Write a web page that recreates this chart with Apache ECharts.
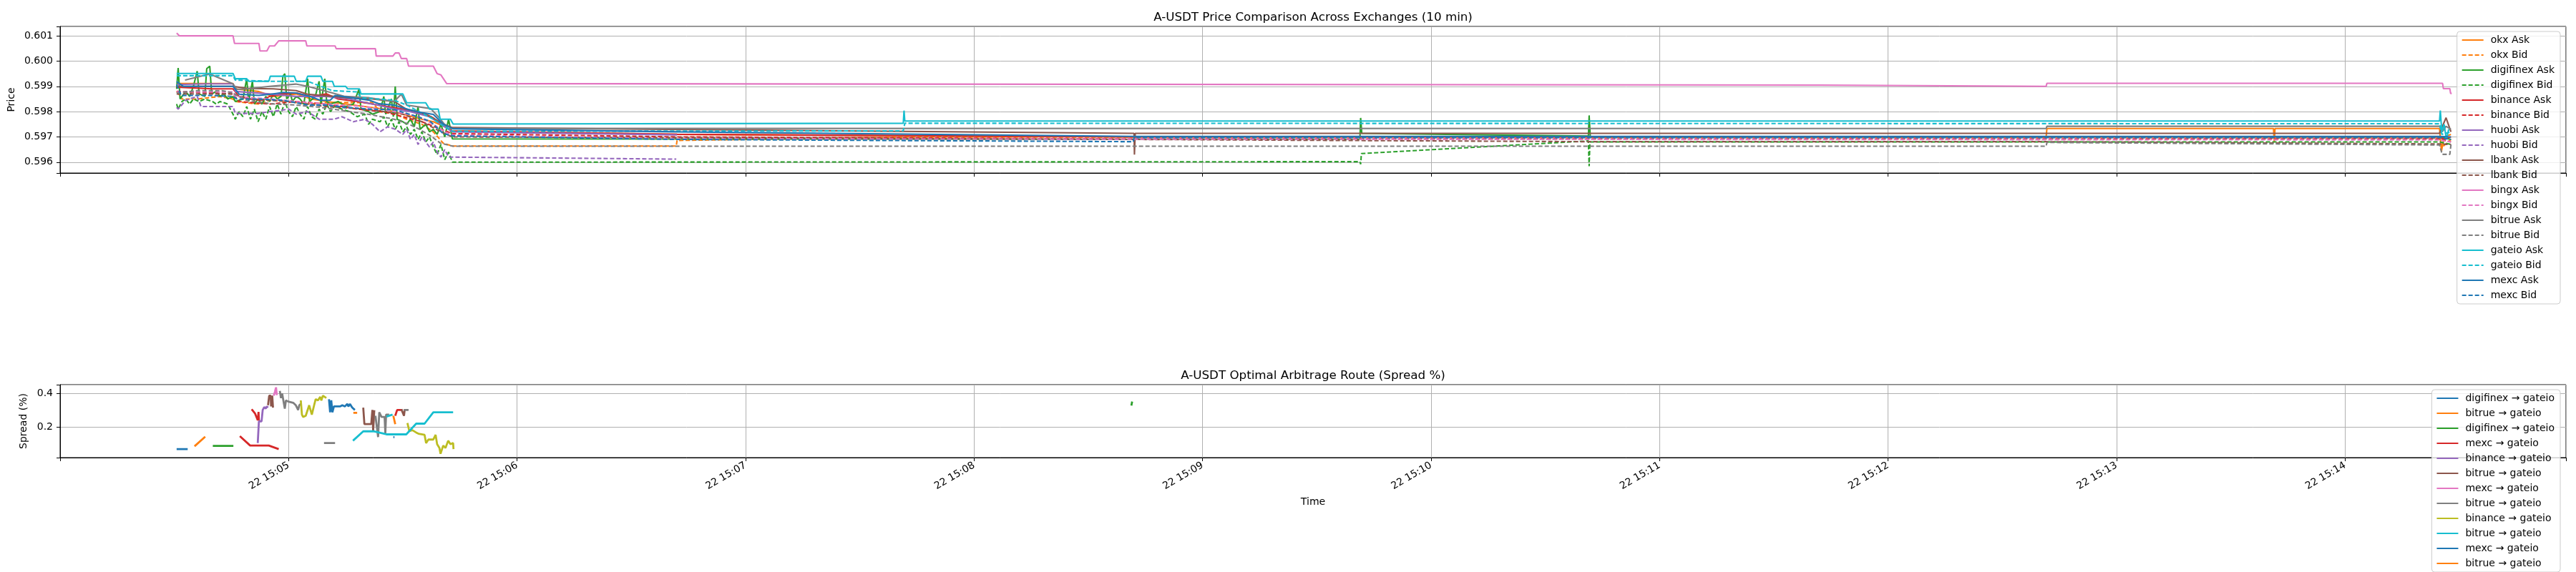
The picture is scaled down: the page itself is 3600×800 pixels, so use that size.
<!DOCTYPE html>
<html>
<head>
<meta charset="utf-8">
<script src="https://cdn.jsdelivr.net/npm/echarts@6/dist/echarts.min.js"></script>
<style>
html, body { margin: 0; padding: 0; background: #fff; }
#chart { width: 3600px; height: 800px; }
</style>
</head>
<body>
<div id="chart"></div>
<script>
// time is seconds after 22 15:04:00, price in USDT
var okxAsk = [[30.6,0.59911],[45.4,0.59911],[46,0.5989],[52,0.5988],[56,0.5986],[62,0.5987],[66,0.5985],[70,0.5984],[75,0.5983],[80,0.5982],[85,0.5981],[90,0.5979],[95,0.5977],[98,0.5976],[101,0.5974],[103,0.59724],[162,0.5971],[282,0.597],[521.5,0.597],[521.7,0.59733],[581.2,0.59733],[581.4,0.59681],[581.6,0.59733],[624.8,0.59733],[625.3,0.59643],[626,0.597],[627.8,0.5971]];
var okxBid = [[30.6,0.5988],[32,0.5985],[36,0.5985],[42,0.5986],[45.4,0.5985],[46,0.5984],[52,0.5983],[55,0.59845],[60,0.5984],[65,0.5983],[71,0.59836],[82,0.59836],[84,0.598],[88,0.5979],[91,0.5977],[95,0.5975],[98,0.5972],[100.6,0.59675],[103,0.59664],[161.8,0.59664],[162,0.59686],[222,0.59699],[521.7,0.59699],[624.8,0.59695],[625.5,0.5966],[627.8,0.5969]];
var digifinexAsk = [[30.6,0.5989],[31,0.59973],[31.5,0.5985],[33,0.5988],[34,0.5986],[35,0.599],[36,0.5996],[36.5,0.5987],[38,0.5986],[38.5,0.5997],[39.3,0.5998],[39.8,0.5987],[41,0.5988],[42,0.5986],[43,0.5987],[44,0.5985],[45.4,0.5986],[46,0.5984],[48,0.5985],[49,0.5993],[49.5,0.5984],[50.5,0.5992],[51,0.5983],[52,0.5985],[53,0.5983],[54,0.5986],[55,0.5984],[56,0.5987],[57,0.5985],[58,0.5986],[58.5,0.5994],[59,0.5995],[59.5,0.5985],[60.5,0.5987],[61,0.5984],[62,0.5986],[63,0.5985],[64,0.5983],[65,0.5993],[65.5,0.5984],[67,0.5986],[68,0.5992],[68.5,0.5983],[69.5,0.5993],[70,0.5984],[71,0.5983],[73,0.5984],[75,0.5982],[77,0.5983],[78.5,0.5989],[79,0.5981],[81,0.598],[82,0.5979],[84,0.598],[85,0.5986],[85.5,0.5979],[87,0.5985],[87.5,0.5978],[88,0.599],[88.5,0.5977],[90,0.5976],[91,0.5975],[92,0.5977],[93,0.5974],[94,0.5982],[94.5,0.5973],[96,0.5975],[97,0.5972],[98,0.5973],[99,0.5971],[100,0.5975],[101,0.597],[102,0.5977],[103,0.59692],[341.3,0.5969],[341.5,0.59775],[341.8,0.59714],[401.3,0.59703],[401.5,0.59785],[401.8,0.597],[624.8,0.597],[627.8,0.5969]];
var digifinexBid = [[30.6,0.5983],[31,0.5981],[32,0.5984],[33,0.5985],[34,0.5983],[35,0.5985],[36.5,0.5984],[38,0.5985],[40,0.5984],[41,0.5983],[42,0.5984],[44,0.5983],[45.4,0.5979],[46,0.5977],[47,0.598],[48,0.5978],[49,0.5982],[50,0.5977],[51,0.5981],[52,0.5976],[53,0.598],[54,0.5977],[55,0.5982],[56,0.5978],[57,0.5983],[58,0.5979],[59,0.5984],[60,0.598],[61,0.5978],[62,0.5982],[63,0.5979],[64,0.5977],[65,0.5982],[66,0.5978],[67,0.5977],[68,0.5981],[69,0.5979],[70,0.5983],[71,0.598],[72,0.5982],[74,0.5981],[76,0.598],[78,0.5978],[80,0.5979],[81,0.5975],[82,0.5977],[84,0.5976],[85,0.5978],[86,0.5974],[87,0.5977],[88,0.5973],[89,0.5976],[90,0.5972],[91,0.5974],[92,0.5971],[93,0.5973],[94,0.5969],[95,0.5972],[96,0.5968],[97,0.597],[98,0.5966],[99,0.5963],[100,0.5967],[101,0.5961],[102,0.5964],[103,0.596],[341.3,0.59602],[341.5,0.59592],[341.7,0.59634],[401.3,0.59684],[401.5,0.59584],[401.7,0.5968],[624.8,0.5968],[627.8,0.5967]];
var binanceAsk = [[30.6,0.59897],[40,0.5989],[45.4,0.5989],[47,0.5986],[50,0.5985],[53,0.59845],[55,0.5986],[58,0.5987],[62,0.59874],[66,0.5986],[70,0.5987],[73,0.5985],[78,0.5984],[82,0.5983],[86,0.5982],[90,0.5981],[93,0.598],[96,0.5979],[98,0.59775],[100,0.5975],[103,0.59723],[162,0.5971],[282,0.597],[624.8,0.597],[626,0.5969],[627.8,0.597]];
var binanceBid = [[30.6,0.5988],[45.4,0.5987],[47,0.5984],[55,0.5983],[62,0.5984],[70,0.5983],[78,0.5981],[85,0.598],[90,0.5978],[95,0.5976],[100,0.5973],[103,0.59713],[162,0.597],[282,0.59692],[624.8,0.59692],[627.8,0.5968]];
var huobiAsk = [[30.6,0.59907],[39,0.5991],[45.4,0.5991],[46,0.5988],[55,0.5987],[62,0.5986],[70,0.5986],[76,0.5985],[82,0.5983],[88,0.5981],[92,0.598],[97,0.5978],[100,0.5975],[103,0.5972],[162,0.59708]];
var huobiBid = [[30.6,0.59817],[31,0.5981],[33,0.59845],[36,0.5986],[37,0.5982],[45.4,0.5982],[46,0.59793],[52,0.59793],[55,0.598],[58,0.59805],[60,0.5981],[62,0.5979],[65,0.598],[68,0.5977],[72,0.5977],[74,0.5978],[77,0.5976],[80,0.5977],[82,0.5975],[84,0.5972],[86,0.5974],[88,0.5973],[90,0.5971],[91,0.5973],[92,0.5969],[93,0.5971],[94,0.5967],[95,0.597],[96,0.5968],[97,0.5966],[98,0.5968],[99,0.5964],[100,0.5962],[101,0.5965],[102,0.5962],[103,0.5962],[161.8,0.59612]];
var lbankAsk = [[30.6,0.599],[45.4,0.599],[49,0.59892],[56,0.5989],[62,0.59883],[65,0.59869],[72,0.5986],[75,0.59855],[82,0.5985],[87.7,0.5984],[90.9,0.5981],[94,0.598],[97.3,0.5978],[100.6,0.59751],[103,0.59737],[282,0.59714],[282.1,0.5963],[282.3,0.59714],[624.8,0.59714],[626.5,0.59776],[627.8,0.5972]];
var lbankBid = [[30.6,0.5987],[45.4,0.5987],[50,0.5985],[60,0.5984],[70,0.5982],[80,0.5981],[90,0.5979],[95,0.5976],[100,0.5972],[103,0.597],[282,0.5969],[402,0.59681],[521.5,0.59681],[521.7,0.59678],[624.8,0.59672],[627.8,0.5967]];
var bingxAsk = [[30.6,0.60111],[31.3,0.601],[45.4,0.601],[45.8,0.6007],[52.2,0.6007],[52.5,0.6004],[54.3,0.6004],[55,0.6006],[56.3,0.6006],[57.4,0.6008],[64.5,0.6008],[64.8,0.6006],[72.2,0.6006],[72.5,0.60049],[82.8,0.60049],[83,0.6002],[87.4,0.6002],[88,0.60032],[89,0.60032],[89.6,0.6001],[91,0.6001],[91.5,0.5998],[98,0.5998],[99,0.5995],[100,0.59945],[101.5,0.59911],[222,0.59909],[462,0.59905],[521.5,0.599],[521.7,0.59912],[625.6,0.59912],[625.8,0.59891],[627.5,0.59891],[627.7,0.59872],[628,0.59872]];
var bingxBid = [[30.6,0.59878],[45.4,0.59878],[46,0.5986],[55,0.5985],[62,0.5984],[70,0.5983],[80,0.5982],[88,0.598],[94,0.5978],[98,0.5975],[101,0.5972],[103,0.59708],[162,0.59692],[624.8,0.59688],[627.8,0.5968]];
var bitrueAsk = [[32.8,0.59925],[39.3,0.59949],[45.4,0.5991],[46.4,0.59888],[49,0.5989],[55,0.599],[61.9,0.59909],[65,0.599],[71.5,0.59874],[74.8,0.5986],[81.2,0.59855],[85.7,0.59845],[87.7,0.5984],[89.6,0.59869],[91,0.59826],[97.3,0.59812],[99.3,0.5978],[101.9,0.59732],[103.2,0.59734],[521.5,0.59733],[521.7,0.59742],[624.8,0.59742],[625.5,0.5972],[626.5,0.59742],[627.8,0.5973]];
var bitrueBid = [[30.6,0.59874],[36.1,0.59883],[42.5,0.59883],[45.4,0.59874],[46.4,0.59864],[49,0.59845],[55.4,0.59831],[61.9,0.59826],[68.3,0.59817],[74.8,0.59803],[81.2,0.59789],[87.7,0.5977],[91.5,0.59751],[94.1,0.59732],[97.3,0.59704],[99.9,0.59675],[103.2,0.59663],[521.5,0.59663],[521.7,0.59678],[624.8,0.59668],[625.5,0.59631],[627.5,0.59631],[627.8,0.5967]];
var gateioAsk = [[30.6,0.59951],[45.4,0.59951],[46,0.5993],[49,0.5993],[49.5,0.5992],[54.8,0.5992],[55.2,0.5994],[61.5,0.5994],[62,0.5992],[64.5,0.5992],[65,0.5994],[68.5,0.5994],[69,0.5992],[71.5,0.5992],[72,0.599],[75,0.599],[75.5,0.5989],[78.6,0.5989],[79,0.5987],[90,0.5987],[91,0.59835],[96,0.59835],[97,0.5981],[99.3,0.5981],[99.8,0.5977],[102.5,0.5977],[103.2,0.59751],[221.4,0.59754],[221.6,0.59804],[221.8,0.59763],[624.8,0.59763],[625,0.59804],[625.4,0.5972],[626,0.5975],[626.6,0.5969],[627.2,0.5973]];
var gateioBid = [[30.6,0.59942],[45.4,0.59942],[46,0.59925],[55,0.5992],[65,0.5992],[71.5,0.59883],[78,0.59878],[79,0.59855],[87.7,0.59845],[91,0.59826],[98,0.5977],[101,0.5974],[103.2,0.59722],[221.4,0.59724],[221.8,0.59754],[624.8,0.59752],[625.4,0.5971],[627.8,0.5972]];
var mexcAsk = [[30.6,0.59919],[32.4,0.599],[45.4,0.599],[47,0.59869],[52.2,0.59864],[55.4,0.59869],[58.6,0.59876],[61.9,0.59874],[65.7,0.5986],[68.3,0.59845],[70.9,0.59845],[72.2,0.59864],[74.1,0.5986],[81.2,0.59845],[83.8,0.59831],[87.7,0.59826],[91.5,0.59808],[94.1,0.59798],[98,0.59789],[100.6,0.59751],[103.2,0.59732],[162,0.5972],[282,0.59702],[624.8,0.59702],[627.8,0.597]];
var mexcBid = [[30.6,0.59907],[31.8,0.59864],[39.3,0.59864],[45.4,0.5986],[46.4,0.5985],[52.2,0.5985],[58.6,0.59845],[65.1,0.59826],[70.2,0.59826],[74.8,0.59817],[81.2,0.5981],[87.7,0.59808],[94.1,0.59779],[97.3,0.5976],[100.6,0.59713],[103.2,0.59704],[162,0.5969],[281.8,0.59681],[282,0.59697],[624.8,0.59697],[627.8,0.5969]];

var exchanges = ['okx', 'digifinex', 'binance', 'huobi', 'lbank', 'bingx', 'bitrue', 'gateio', 'mexc'];
var exchangeColors = ['#ff7f0e', '#2ca02c', '#d62728', '#9467bd', '#8c564b', '#e377c2', '#7f7f7f', '#17becf', '#1f77b4'];
var askSeries = [okxAsk, digifinexAsk, binanceAsk, huobiAsk, lbankAsk, bingxAsk, bitrueAsk, gateioAsk, mexcAsk];
var bidSeries = [okxBid, digifinexBid, binanceBid, huobiBid, lbankBid, bingxBid, bitrueBid, gateioBid, mexcBid];

// spread (%) of the best route, pieces split by null
var route0 = [[30.6,0.068],[33.5,0.068]];
var route1 = [[35.3,0.085],[38.1,0.142]];
var route2 = [[40.1,0.087],[45.5,0.087],null,[281.3,0.328],[281.5,0.352]];
var route3 = [[47.2,0.145],[49.9,0.089],[54.8,0.089],[57.4,0.068],null,[50.3,0.306],[51.2,0.28],[51.9,0.24],[52.1,0.29],[52.2,0.238],null,[88,0.267],[88.5,0.302],[89.9,0.302]];
var route4 = [[51.9,0.104],[52.2,0.234],[52.9,0.234],[53.2,0.302],[53.6,0.319],[54,0.31],[54.3,0.323],[54.6,0.316]];
var route5 = [[54.6,0.33],[54.9,0.387],[55.3,0.387],[55.4,0.323],[55.7,0.387],[55.9,0.316],null,[79.6,0.316],[79.9,0.217],[81.7,0.217],[82,0.302],[82.2,0.175],[82.5,0.3],null,[89.6,0.306],[90.3,0.267],[90.5,0.306]];
var route6 = [[56.1,0.387],[56.4,0.41],[56.7,0.437],[56.9,0.39]];
var route7 = [[57.7,0.416],[58,0.373],[58.3,0.401],[59,0.31],[59.3,0.359],[59.9,0.352],[61.2,0.345],[61.9,0.33],[62.5,0.302],[62.8,0.33],[63.2,0.338],null,[69.3,0.104],[72.2,0.104],null,[82.8,0.267],[83.5,0.14],[83.8,0.288],[84.4,0.26],[85.2,0.26],[85.4,0.16],[85.6,0.274],[86.4,0.274],null,[90.3,0.302],[91.5,0.302]];
var route8 = [[63.2,0.359],[63.5,0.274],[63.8,0.26],[64.5,0.267],[65.4,0.33],[66.1,0.274],[66.7,0.33],[67.1,0.366],[67.7,0.359],[68.3,0.38],[68.6,0.359],[69,0.387],[69.9,0.373],null,[91.2,0.224],[91.7,0.175],[92.5,0.181],[93.5,0.167],[94.1,0.16],[95.7,0.153],[96.1,0.104],[96.7,0.125],[98,0.125],[98.6,0.153],[99,0.097],[99.6,0.075],[99.9,0.04],[100.6,0.089],[101.2,0.075],[101.9,0.118],[102.5,0.097],[103.2,0.104],[103.3,0.068]];
var route9 = [[76.9,0.118],[79.6,0.174],[82.5,0.174],[85.1,0.16],[85.7,0.156],[90.9,0.156],[93.5,0.22],[95.7,0.22],[98,0.288],[103.2,0.288],null,[85.7,0.262],[87.3,0.274]];
var route10 = [[70.6,0.366],[70.9,0.288],[71.2,0.359],[71.5,0.288],[71.9,0.323],[73.5,0.323],[74.1,0.33],[74.8,0.323],[75.4,0.338],[75.7,0.323],[76.1,0.338],[76.7,0.316],[77.4,0.302],null,[87.5,0.139],[87.8,0.139]];
var route11 = [[77,0.285],[78,0.285],null,[87.5,0.267],[88,0.217]];
var routeNames = ['digifinex → gateio', 'bitrue → gateio', 'digifinex → gateio', 'mexc → gateio', 'binance → gateio', 'bitrue → gateio', 'mexc → gateio', 'bitrue → gateio', 'binance → gateio', 'bitrue → gateio', 'mexc → gateio', 'bitrue → gateio'];
var routeColors = ['#1f77b4', '#ff7f0e', '#2ca02c', '#d62728', '#9467bd', '#8c564b', '#e377c2', '#7f7f7f', '#bcbd22', '#17becf', '#1f77b4', '#ff7f0e'];
var routeData = [route0, route1, route2, route3, route4, route5, route6, route7, route8, route9, route10, route11];

var minuteTicks = [60, 120, 180, 240, 300, 360, 420, 480, 540, 600];

var FONT = 'DejaVu Sans';
var myChart = echarts.init(document.getElementById('chart'), null, { renderer: 'canvas' });

var series = [];
var topNames = [];
for (var i = 0; i < exchanges.length; i++) {
	topNames.push(exchanges[i] + ' Ask', exchanges[i] + ' Bid');
	series.push({
		name: exchanges[i] + ' Ask', type: 'line', xAxisIndex: 0, yAxisIndex: 0,
		data: askSeries[i], symbol: 'none', showSymbol: false, color: exchangeColors[i],
		lineStyle: { width: 2.1, type: 'solid', color: exchangeColors[i] }
	});
	series.push({
		name: exchanges[i] + ' Bid', type: 'line', xAxisIndex: 0, yAxisIndex: 0,
		data: bidSeries[i], symbol: 'none', showSymbol: false, color: exchangeColors[i],
		lineStyle: { width: 2.1, type: [6, 3], color: exchangeColors[i] }
	});
}
var bottomNames = [];
for (var j = 0; j < routeData.length; j++) {
	var key = routeNames[j] + '#' + j;
	bottomNames.push(key);
	series.push({
		name: key, type: 'line', xAxisIndex: 1, yAxisIndex: 1,
		data: routeData[j], symbol: 'none', showSymbol: false, connectNulls: false, color: routeColors[j],
		lineStyle: { width: 2.8, color: routeColors[j] }
	});
}

function timeLabel(v) {
	if (minuteTicks.indexOf(Math.round(v)) < 0 || Math.abs(v - Math.round(v)) > 1e-6) return '';
	var m = 4 + Math.round(v) / 60;
	return '22 15:' + (m < 10 ? '0' + m : m);
}

var axisCommon = {
	axisLine: { show: true, lineStyle: { color: '#000', width: 1 } },
	axisTick: { show: true, length: 5, lineStyle: { color: '#000' } },
	splitLine: { show: true, lineStyle: { color: '#b0b0b0', width: 1 } }
};

var legendCommon = {
	orient: 'vertical', right: 22, itemWidth: 30, itemHeight: 14, itemGap: 7, icon: 'inherit',
	itemStyle: { opacity: 0 },
	padding: [5, 8, 5, 6], backgroundColor: 'rgba(255,255,255,0.8)', borderColor: '#cccccc', borderWidth: 1, borderRadius: 4,
	selectedMode: false, textStyle: { fontFamily: FONT, fontSize: 14, color: '#000', padding: [0, 0, 0, 5] }
};

var option = {
	animation: false,
	backgroundColor: '#fff',
	textStyle: { fontFamily: FONT },
	graphic: [
		{ type: 'text', x: 1835, y: 33, style: { text: 'A-USDT Price Comparison Across Exchanges (10 min)', fill: '#000', font: '16.7px "DejaVu Sans"', align: 'center', verticalAlign: 'bottom' } },
		{ type: 'text', x: 1835, y: 534, style: { text: 'A-USDT Optimal Arbitrage Route (Spread %)', fill: '#000', font: '16.7px "DejaVu Sans"', align: 'center', verticalAlign: 'bottom' } }
	],
	grid: [
		{ left: 84, right: 14, top: 37, height: 205, show: true, borderColor: '#000', borderWidth: 1, containLabel: false },
		{ left: 84, right: 14, top: 538, height: 102, show: true, borderColor: '#000', borderWidth: 1, containLabel: false }
	],
	legend: [
		echarts.util.merge({ data: topNames, top: 44 }, legendCommon, true),
		echarts.util.merge({
			data: bottomNames, top: 545, height: 320,
			formatter: function(name) { return name.split('#')[0]; }
		}, legendCommon, true)
	],
	xAxis: [
		echarts.util.merge({
			type: 'value', gridIndex: 0, min: 0, max: 658, interval: 60,
			axisLabel: { show: false }
		}, axisCommon, true),
		echarts.util.merge({
			type: 'value', gridIndex: 1, min: 0, max: 658, interval: 60,
			name: 'Time', nameLocation: 'middle', nameGap: 55,
			nameTextStyle: { fontFamily: FONT, fontSize: 14, color: '#000' },
			axisLabel: { rotate: 30, fontFamily: FONT, fontSize: 14, color: '#000', margin: 10, formatter: timeLabel }
		}, axisCommon, true)
	],
	yAxis: [
		echarts.util.merge({
			type: 'value', gridIndex: 0, min: 0.59557, max: 0.60137, splitNumber: 5,
			name: 'Price', nameLocation: 'middle', nameGap: 57,
			nameTextStyle: { fontFamily: FONT, fontSize: 14, color: '#000' },
			axisLabel: {
				fontFamily: FONT, fontSize: 14, color: '#000', margin: 10,
				formatter: function(v) { return Math.abs(v * 1000 - Math.round(v * 1000)) < 1e-6 ? v.toFixed(3) : ''; }
			}
		}, axisCommon, true),
		echarts.util.merge({
			type: 'value', gridIndex: 1, min: 0.017, max: 0.453, splitNumber: 2,
			name: 'Spread (%)', nameLocation: 'middle', nameGap: 38,
			nameTextStyle: { fontFamily: FONT, fontSize: 14, color: '#000' },
			axisLabel: {
				fontFamily: FONT, fontSize: 14, color: '#000', margin: 10,
				formatter: function(v) { return Math.abs(v * 5 - Math.round(v * 5)) < 1e-6 ? v.toFixed(1) : ''; }
			}
		}, axisCommon, true)
	],
	series: series
};
myChart.setOption(option);
</script>
</body>
</html>
